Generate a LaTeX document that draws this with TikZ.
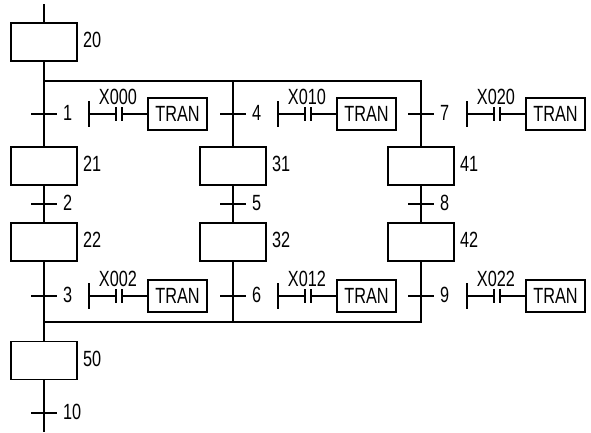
\documentclass[tikz,border=0pt]{standalone}
\usepackage{graphicx}
\usepackage{fontspec}
\setmainfont{Liberation Sans}
\newcommand{\NarrowText}[1]{\scalebox{0.74}[1]{#1}}
\tikzset{
  every path/.style={line width=1.35pt},
  stepbox/.style={draw,minimum width=49.5pt,minimum height=28.5pt,inner sep=0pt,outer sep=0pt},
  tranbox/.style={draw,minimum width=44.25pt,minimum height=24pt,inner sep=0pt,outer sep=0pt,font=\fontsize{16.5}{16.5}\selectfont},
  lbl/.style={inner sep=0pt,outer sep=0pt,font=\fontsize{16.5}{16.5}\selectfont,anchor=west},
  ctext/.style={inner sep=0pt,outer sep=0pt,font=\fontsize{16.5}{16.5}\selectfont}
}
% name, x of the line, y, label
\newcommand{\TickMark}[4]{%
  \coordinate (#1) at (#2,#3);
  \coordinate (#1l) at ({#2-13},#3);
  \coordinate (#1r) at ({#2+13},#3);
  \draw (#1l) -- (#1r);
  \node[lbl] (#1t) at ({#2+19},{#3-1}) {\NarrowText{#4}};
}
% name, x of the bar, y, contact label
\newcommand{\ContactTran}[4]{%
  \coordinate (#1a) at (#2,{#3-13});
  \coordinate (#1b) at (#2,{#3+13});
  \coordinate (#1m) at (#2,#3);
  \coordinate (#1p) at ({#2+27},#3);
  \coordinate (#1pa) at ({#2+27},{#3-7});
  \coordinate (#1pb) at ({#2+27},{#3+7});
  \coordinate (#1q) at ({#2+33},#3);
  \coordinate (#1qa) at ({#2+33},{#3-7});
  \coordinate (#1qb) at ({#2+33},{#3+7});
  \node[tranbox] (#1box) at ({#2+88.5},#3) {\NarrowText{TRAN}};
  \node[ctext] (#1lab) at ({#2+29},{#3-17}) {\NarrowText{#4}};
  \draw (#1a) -- (#1b);
  \draw (#1m) -- (#1p);
  \draw (#1pa) -- (#1pb);
  \draw (#1qa) -- (#1qb);
  \draw (#1q) -- (#1box.west);
}
\begin{document}
\begin{tikzpicture}[x=0.75pt,y=-0.75pt]
\useasboundingbox (0,0) rectangle (591,432);
% steps
\node[stepbox] (b20) at (44,42) {};
\node[stepbox] (b21) at (44,166) {};
\node[stepbox] (b22) at (44,242) {};
\node[stepbox] (b31) at (233,166) {};
\node[stepbox] (b32) at (233,242) {};
\node[stepbox] (b41) at (421,166) {};
\node[stepbox] (b42) at (421,242) {};
\node[stepbox] (b50) at (44,360.5) {};
\node[lbl] (l20) at (83,40) {\NarrowText{20}};
\node[lbl] (l21) at (83,164) {\NarrowText{21}};
\node[lbl] (l22) at (83,240) {\NarrowText{22}};
\node[lbl] (l31) at (272,164) {\NarrowText{31}};
\node[lbl] (l32) at (272,240) {\NarrowText{32}};
\node[lbl] (l41) at (460,164) {\NarrowText{41}};
\node[lbl] (l42) at (460,240) {\NarrowText{42}};
\node[lbl] (l50) at (83,359) {\NarrowText{50}};
% free ends and junctions
\coordinate (top) at (44,4);
\coordinate (bottom) at (44,432);
\coordinate (j1) at (44,81);
\coordinate (j2) at (233,81);
\coordinate (j3) at (421,81);
\coordinate (k1) at (44,322);
\coordinate (k2) at (233,322);
\coordinate (k3) at (421,322);
% vertical lines
\draw (top) -- (b20.north);
\draw (b20.south) -- (b21.north);
\draw (b21.south) -- (b22.north);
\draw (b22.south) -- (b50.north);
\draw (b50.south) -- (bottom);
\draw (j2) -- (b31.north);
\draw (b31.south) -- (b32.north);
\draw (b32.south) -- (k2);
\draw (j3) -- (b41.north);
\draw (b41.south) -- (b42.north);
\draw (b42.south) -- (k3);
% buses
\draw[line cap=rect] (j1) -- (j2) -- (j3);
\draw[line cap=rect] (k1) -- (k2) -- (k3);
% transitions
\TickMark{t1}{44}{114}{1}
\TickMark{t2}{44}{204}{2}
\TickMark{t3}{44}{296}{3}
\TickMark{t4}{233}{114}{4}
\TickMark{t5}{233}{204}{5}
\TickMark{t6}{233}{296}{6}
\TickMark{t7}{421}{114}{7}
\TickMark{t8}{421}{204}{8}
\TickMark{t9}{421}{296}{9}
\TickMark{t10}{44}{413}{10}
% contacts
\ContactTran{c1}{89}{114}{X000}
\ContactTran{c2}{278}{114}{X010}
\ContactTran{c3}{467}{114}{X020}
\ContactTran{c4}{89}{296}{X002}
\ContactTran{c5}{278}{296}{X012}
\ContactTran{c6}{467}{296}{X022}
\end{tikzpicture}
\end{document}
